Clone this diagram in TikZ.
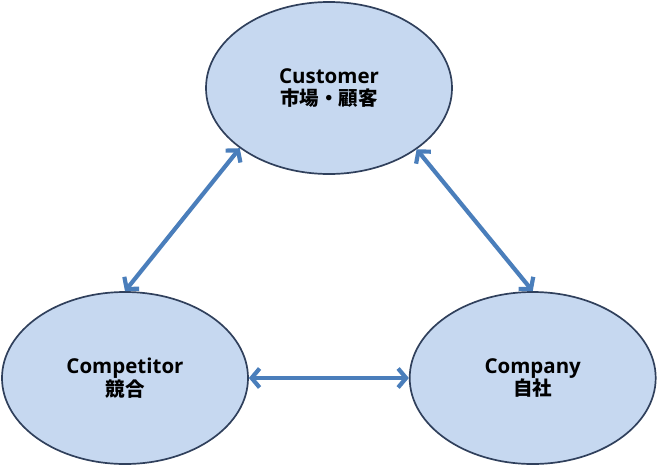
\documentclass[tikz,border=0pt]{standalone}
\usepackage{fontspec}
\setmainfont{Open Sans}
\newfontfamily\jpfont{Noto Sans CJK JP}
\usetikzlibrary{positioning, arrows.meta, shapes.geometric}

\definecolor{relleno}{RGB}{198,216,240}
\definecolor{borde}{RGB}{48,64,92}
\definecolor{azulflecha}{RGB}{74,126,187}

\begin{document}
\begin{tikzpicture}[
		x=1pt, y=-1pt,
		% Estilo de los tres actores
		actor/.style={draw=borde, fill=relleno, line width=1.7pt, ellipse, inner sep=0pt, minimum width=246pt, minimum height=172pt, align=center, font=\bfseries\fontsize{20.5}{22.5}\selectfont},
		% Estilo de flechas dobles
		flecha/.style={{Straight Barb[length=8pt, width=19pt]}-{Straight Barb[length=8pt, width=19pt]}, line width=4.2pt, draw=azulflecha}
		]
		\useasboundingbox (0,0) rectangle (658,466);
		
		% --- NODOS ---
		\node[actor] (customer) at (329,88) {Customer\\{\jpfont\fontsize{19.5}{22.5}\selectfont 市場・顧客}};
		\node[actor] (competitor) at (125,378) {Competitor\\{\jpfont\fontsize{19.5}{22.5}\selectfont 競合}};
		\node[actor, right=160pt of competitor] (company) {Company\\{\jpfont\fontsize{19.5}{22.5}\selectfont 自社}};
		
		% --- RELACIONES ---
		\draw[flecha] (competitor.north) -- (customer.214);
		\draw[flecha] (customer.325) -- (company.north);
		\draw[flecha] (competitor.east) -- (company.west);
		
	\end{tikzpicture}
\end{document}
